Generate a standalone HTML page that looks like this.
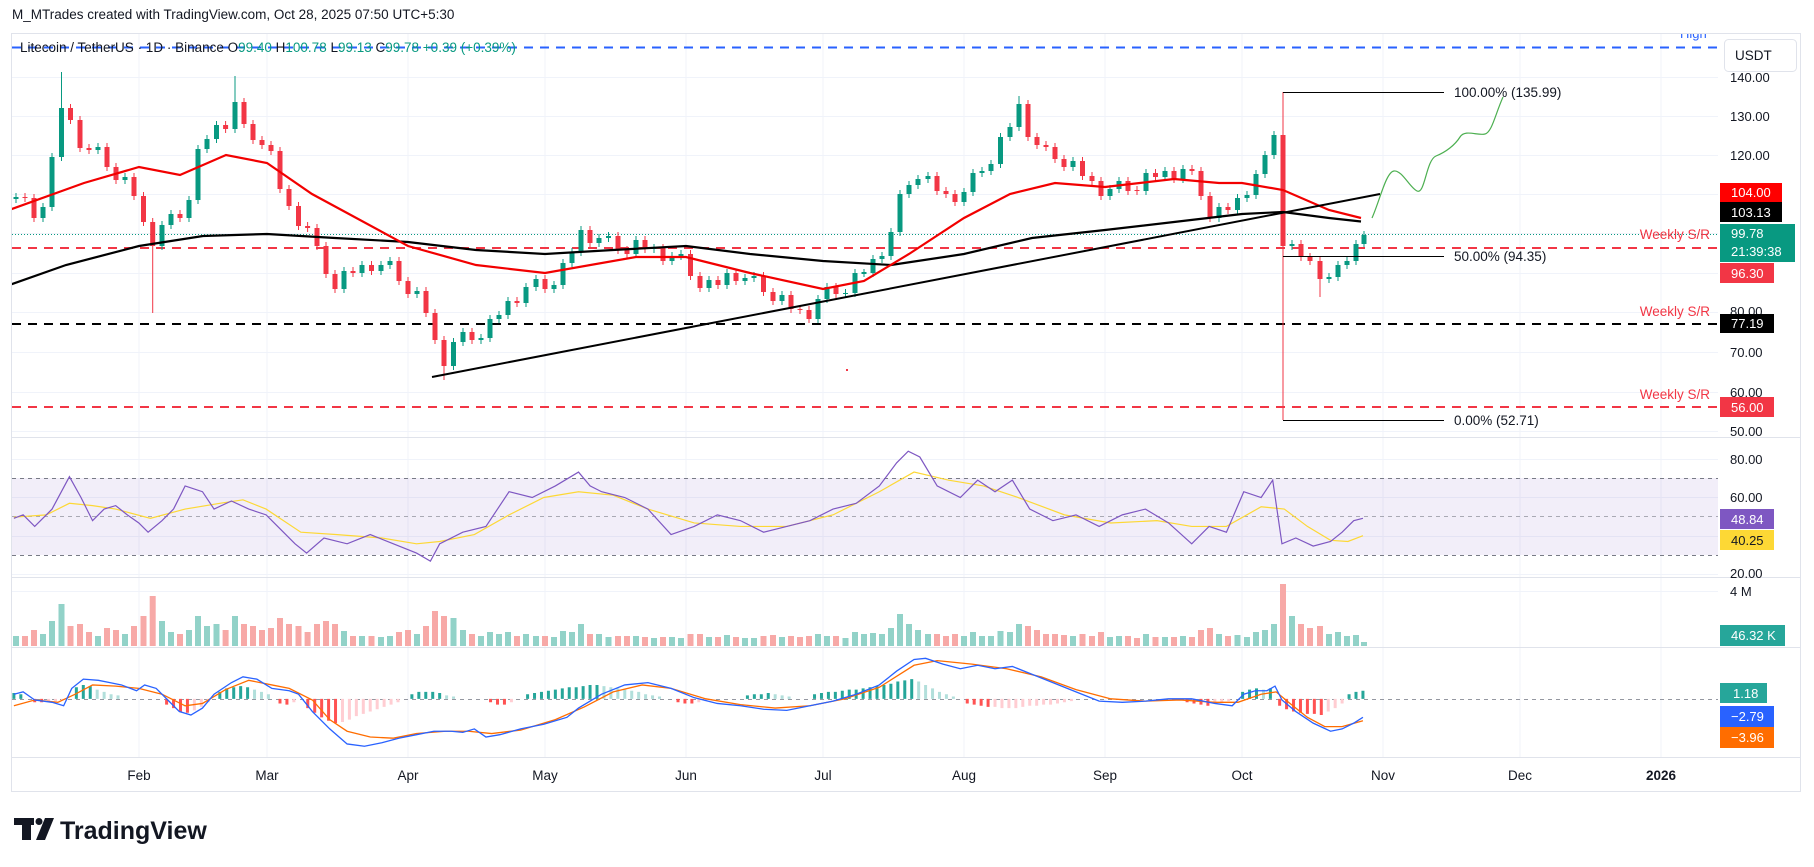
<!DOCTYPE html>
<html><head><meta charset="utf-8"><style>html,body{margin:0;padding:0;background:#fff}svg{display:block}</style></head>
<body>
<svg xmlns="http://www.w3.org/2000/svg" width="1814" height="867" font-family="Liberation Sans, sans-serif">
<rect width="1814" height="867" fill="#fff"/>
<defs><clipPath id="pc"><rect x="12" y="34" width="1706" height="723"/></clipPath>
<clipPath id="mc"><rect x="12" y="34" width="1706" height="403"/></clipPath></defs>
<text x="12" y="19" font-size="13.5" fill="#131722">M_MTrades created with TradingView.com, Oct 28, 2025 07:50 UTC+5:30</text>
<rect x="11.5" y="33.5" width="1789" height="758" fill="none" stroke="#e0e3eb"/>
<g stroke="#f0f3fa" stroke-width="1">
<path d="M139,34V757M267,34V757M408,34V757M545,34V757M686,34V757M823,34V757M964,34V757M1105,34V757M1242,34V757M1383,34V757M1520,34V757M1661,34V757"/>
<path d="M12,77.5H1718M12,116.5H1718M12,155.5H1718M12,194.5H1718M12,233.5H1718M12,273.5H1718M12,312.5H1718M12,352.5H1718M12,392.5H1718M12,431.5H1718M12,459.5H1718M12,497.5H1718M12,536.5H1718M12,574.5H1718M12,591.5H1718"/>
</g>
<g stroke="#e0e3eb"><line x1="12" y1="437.5" x2="1800" y2="437.5"/><line x1="12" y1="577.5" x2="1800" y2="577.5"/><line x1="12" y1="647.5" x2="1800" y2="647.5"/><line x1="12" y1="757.5" x2="1800" y2="757.5"/></g>
<rect x="12" y="478" width="1706" height="77" fill="#7e57c2" fill-opacity="0.1"/>
<g stroke="#787b86" stroke-dasharray="4,4" stroke-width="1"><line x1="12" y1="478.5" x2="1718" y2="478.5"/><line x1="12" y1="516.5" x2="1718" y2="516.5" stroke-opacity="0.6"/><line x1="12" y1="555.5" x2="1718" y2="555.5"/></g>
<line x1="12" y1="699.5" x2="1718" y2="699.5" stroke="#9598a1" stroke-dasharray="4,4"/>
<g clip-path="url(#mc)">
<line x1="12" y1="47.5" x2="1718" y2="47.5" stroke="#2962ff" stroke-width="2" stroke-dasharray="9,7"/>
<text x="1680" y="38" font-size="13" fill="#2962ff">High</text>
<line x1="12" y1="234.5" x2="1718" y2="234.5" stroke="#089981" stroke-dasharray="1,2"/>
<line x1="12" y1="248" x2="1718" y2="248" stroke="#f23645" stroke-width="2" stroke-dasharray="9,7"/>
<line x1="12" y1="324" x2="1718" y2="324" stroke="#000" stroke-width="2" stroke-dasharray="9,7"/>
<line x1="12" y1="407" x2="1718" y2="407" stroke="#f23645" stroke-width="2" stroke-dasharray="9,7"/>
<!-- green candles -->
<g stroke="#089981" fill="none">
<path stroke-width="1" d="M16,193V203M43,203V222M52,153V211M61.5,72V161M98,143V154M125,173V184M162,221V250M171,210V229M189,196V222M198,145V204M207,135V153M216.5,121V143M235,76V133M344,267V293M362,261V277M381,261V275M390,257V269M417,287V298M453.5,338V370M463,328V346M481,334V344M490,315V342M499,311V323M508,297V319M526,283V307M536,275V291M554,281V293M563,259V289M572,248V267M581,226V256M599,234V247M608.5,232V242M636,236V258M654,244V253M672,252V265M681,250V260M709,276V292M727,269V289M745,274V285M754,272V282M782,291V305M818,295V323M827,283V303M845.5,289V298M855,269V297M864,269V277M873,255V277M882,252V263M891,228V260M900,190V236M909,181V198M918,175V189M928,172V183M964,188V206M973,169V196M982,167V177M991,160V175M1000.5,133V168M1010,123V141M1019,96V131M1073,157V171M1110,185V200M1119,177V193M1146,169V195M1165,167V181M1183,165V183M1219,203V222M1237.5,194V214M1247,191V202M1256,170V199M1265,151V178M1274,131V159M1292,240V250M1329,273V283M1338,261V281M1347,257V269M1356,240V265M1364,231V247"/>
<path stroke-width="5" d="M16,199V197M43,218V207M52,207V157M61.5,157V108M98,150V147M125,180V177M162,246V225M171,225V214M189,218V200M198,200V149M207,149V139M216.5,139V125M235,129V102M344,289V271M362,273V265M381,271V265M390,265V261M417,294V291M453.5,366V342M463,342V332M481,340V338M490,338V319M499,319V315M508,315V301M526,303V287M536,287V279M554,289V285M563,285V263M572,263V252M581,252V230M599,243V238M608.5,238V236M636,254V240M654,249V248M672,261V256M681,256V254M709,288V280M727,285V273M745,281V278M754,278V276M782,301V295M818,319V299M827,299V287M845.5,294V293M855,293V273M864,274V272M873,273V259M882,259V256M891,256V232M900,232V194M909,194V185M918,185V179M928,179V176M964,202V192M973,192V173M982,173V171M991,171V164M1000.5,164V137M1010,137V127M1019,127V104M1073,167V161M1110,196V189M1119,189V181M1146,191V173M1165,177V171M1183,179V169M1219,218V207M1237.5,210V198M1247,198V195M1256,195V174M1265,174V155M1274,155V135M1292,246V244M1329,279V277M1338,277V265M1347,265V261M1356,261V244M1364,244V235"/>
</g>
<g stroke="#f23645" fill="none">
<path stroke-width="1" d="M7,179V203M25,193V202M34,194V222M70.5,104V124M80,116V152M89,144V154M107,143V171M116,163V184M134,173V200M143.5,192V226M152.7,218V313M180,210V222M225.6,121V133M244,98V128M253,120V144M262,136V149M271,141V155M280,147V193M289,185V210M298.5,202V230M307.6,222V232M317,224V250M326,242V278M335,270V293M353,267V277M371.5,261V275M399,257V285M408,277V298M426,287V317M435,309V344M444,336V380M472,328V344M517,297V307M545,275V293M590,226V247M618,232V254M627,246V258M645,236V253M663,244V265M690.5,250V280M700,272V292M718,276V289M736,269V285M763.5,272V296M773,288V305M791,291V313M800,305V314M809,306V323M836,283V298M937,172V195M946,187V198M955,190V206M1028,100V141M1037,133V149M1046,141V151M1055,143V163M1064,155V171M1082.5,157V180M1092,172V185M1101,177V200M1128,177V195M1137,186V195M1155.5,169V181M1174,167V183M1192,165V175M1201,167V200M1210,192V222M1228,203V214M1283,92V420M1301,240V261M1310,253V265M1320,257V297"/>
<path stroke-width="5" d="M7,183V199M25,197V198M34,198V218M70.5,108V120M80,120V148M89,148V150M107,147V167M116,167V180M134,177V196M143.5,196V222M152.7,222V246M180,214V218M225.6,125V129M244,102V124M253,124V140M262,140V145M271,145V151M280,151V189M289,189V206M298.5,206V226M307.6,226V228M317,228V246M326,246V274M335,274V289M353,271V273M371.5,265V271M399,261V281M408,281V294M426,291V313M435,313V340M444,340V366M472,332V340M517,301V303M545,279V289M590,230V243M618,236V250M627,250V254M645,240V249M663,248V261M690.5,254V276M700,276V288M718,280V285M736,273V281M763.5,276V292M773,292V301M791,295V309M800,309V310M809,310V319M836,287V294M937,176V191M946,191V194M955,194V202M1028,104V137M1037,137V145M1046,145V147M1055,147V159M1064,159V167M1082.5,161V176M1092,176V181M1101,181V196M1128,181V191M1137,190V191M1155.5,173V177M1174,171V179M1192,169V171M1201,171V196M1210,196V218M1228,207V210M1283,135V246M1301,244V257M1310,257V261M1320,261V279"/>
</g>
<polyline fill="none" stroke="#000" stroke-width="2.2" points="-2,289 66,265 139,246 203,236 267,234 335,238 408,242 476,250 545,254 613,250 686,246 750,254 823,261 891,265 964,254 1032,238 1105,230 1174,222 1242,214 1283,212 1329,218 1361,221.5"/>
<polyline fill="none" stroke="#f20000" stroke-width="2.2" points="-2,214 84,183 139,167 180,175 226,155 267,163 312,194 408,246 476,265 545,273 636,257 686,257 750,273 823,289 864,281 909,254 964,218 1010,194 1055,183 1105,187 1174,179 1219,183 1242,183 1283,190 1329,210 1361,218"/>
<line x1="432" y1="377" x2="1380" y2="194" stroke="#000" stroke-width="2"/>
<g stroke="#000" stroke-width="1"><line x1="1283" y1="92.5" x2="1444" y2="92.5"/><line x1="1283" y1="256.5" x2="1444" y2="256.5"/><line x1="1283" y1="420.5" x2="1444" y2="420.5"/></g>
<path d="M1372,218 C1380,200 1386,172 1394,171 S1410,188 1417,191 C1425,195 1426,160 1436,156 S1455,145 1460,137 S1478,136 1485,134 S1495,115 1503,97" fill="none" stroke="#4caf50" stroke-width="1.2"/>
<rect x="846" y="369" width="2" height="2" fill="#f23645"/>
</g>
<g font-size="13.5" fill="#131722">
<text x="1454" y="97">100.00% (135.99)</text>
<text x="1454" y="261">50.00% (94.35)</text>
<text x="1454" y="425">0.00% (52.71)</text>
</g>
<g font-size="13.5" fill="#f23645" text-anchor="end"><text x="1710" y="239">Weekly S/R</text><text x="1710" y="316">Weekly S/R</text><text x="1710" y="399">Weekly S/R</text></g>
<text x="20" y="52" font-size="13.5" fill="#131722">Litecoin / TetherUS · 1D · Binance  O<tspan fill="#089981">99.40</tspan>  H<tspan fill="#089981">100.78</tspan>  L<tspan fill="#089981">99.13</tspan>  C<tspan fill="#089981">99.78  +0.39 (+0.39%)</tspan></text>
<g clip-path="url(#pc)">
<!-- volume -->
<path stroke="#92d2c8" stroke-width="6" fill="none" d="M16,646v-10M43,646v-12M52,646v-25M61.5,646v-42M98,646v-10M125,646v-12M162,646v-25M171,646v-14M189,646v-16M198,646v-30M207,646v-20M216.5,646v-22M235,646v-30M344,646v-15M362,646v-10M381,646v-9M390,646v-10M417,646v-12M453.5,646v-28M463,646v-16M481,646v-10M490,646v-14M499,646v-12M508,646v-14M526,646v-12M536,646v-10M554,646v-9M563,646v-15M572,646v-14M581,646v-22M599,646v-12M608.5,646v-9M636,646v-10M654,646v-8M672,646v-9M681,646v-8M709,646v-9M727,646v-11M745,646v-8M754,646v-8M782,646v-9M818,646v-12M827,646v-10M845.5,646v-8M855,646v-14M864,646v-12M873,646v-13M882,646v-12M891,646v-18M900,646v-32M909,646v-22M918,646v-16M928,646v-12M964,646v-10M973,646v-14M982,646v-10M991,646v-10M1000.5,646v-15M1010,646v-14M1019,646v-22M1073,646v-10M1110,646v-9M1119,646v-10M1146,646v-12M1165,646v-9M1183,646v-10M1219,646v-12M1237.5,646v-11M1247,646v-9M1256,646v-14M1265,646v-16M1274,646v-22M1292,646v-30M1329,646v-12M1338,646v-14M1347,646v-10M1356,646v-11M1364,646v-4"/>
<path stroke="#f7a9a7" stroke-width="6" fill="none" d="M7,646v-12M25,646v-10M34,646v-16M70.5,646v-20M80,646v-22M89,646v-14M107,646v-18M116,646v-16M134,646v-20M143.5,646v-30M152.7,646v-50M180,646v-12M225.6,646v-16M244,646v-22M253,646v-20M262,646v-16M271,646v-18M280,646v-28M289,646v-22M298.5,646v-20M307.6,646v-14M317,646v-22M326,646v-25M335,646v-22M353,646v-10M371.5,646v-10M399,646v-14M408,646v-16M426,646v-20M435,646v-35M444,646v-30M472,646v-12M517,646v-10M545,646v-10M590,646v-12M618,646v-10M627,646v-10M645,646v-9M663,646v-9M690.5,646v-12M700,646v-12M718,646v-9M736,646v-9M763.5,646v-10M773,646v-11M791,646v-10M800,646v-9M809,646v-10M836,646v-10M937,646v-12M946,646v-10M955,646v-12M1028,646v-20M1037,646v-16M1046,646v-12M1055,646v-12M1064,646v-11M1082.5,646v-12M1092,646v-10M1101,646v-14M1128,646v-10M1137,646v-8M1155.5,646v-9M1174,646v-9M1192,646v-9M1201,646v-16M1210,646v-18M1228,646v-10M1283,646v-62M1301,646v-22M1310,646v-18M1320,646v-20"/>
<!-- RSI & MACD in perceived coords -->
<g transform="scale(1.157)" fill="none">
<polyline vector-effect="non-scaling-stroke" stroke="#fdd835" stroke-width="1.2" points="12,447 40,445 60,435 80,437 100,440 130,448 160,440 190,435 210,432 230,440 260,460 290,462 330,465 360,470 380,468 410,462 440,445 470,430 500,425 530,428 560,440 600,452 640,455 680,455 720,445 760,425 790,408 820,415 850,420 880,430 920,445 960,452 1000,450 1030,455 1060,455 1090,438 1110,440 1130,455 1150,467 1165,468 1178,463"/>
<polyline vector-effect="non-scaling-stroke" stroke="#7e57c2" stroke-width="1.2" points="12,448 20,445 30,455 45,440 60,412 70,430 80,450 90,440 100,437 110,445 120,452 128,460 140,450 150,440 160,420 175,425 185,440 200,433 215,440 230,445 240,455 255,470 265,478 280,465 300,470 320,462 340,470 360,478 372,485 380,470 400,460 420,455 430,440 440,425 460,430 480,420 500,408 510,420 520,425 540,430 560,440 580,462 600,455 620,445 640,450 660,460 680,455 700,450 720,440 740,435 760,420 775,400 785,390 795,395 810,420 830,430 845,415 860,425 875,415 890,440 910,450 930,445 950,455 970,445 990,440 1010,452 1030,470 1045,455 1060,460 1075,425 1090,430 1100,415 1108,470 1120,465 1135,472 1150,468 1160,460 1170,450 1178,448"/>
<path vector-effect="non-scaling-stroke" stroke="#26a69a" stroke-width="3" d="M12,604v-5M18,604v-4M66,604v-10M72,604v-12M78,604v-11M190,604v-6M196,604v-9M202,604v-10M208,604v-11M214,604v-10M356,604v-4M362,604v-6M368,604v-6M374,604v-6M380,604v-5M456,604v-4M462,604v-5M468,604v-6M474,604v-7M480,604v-8M486,604v-9M492,604v-10M498,604v-10M504,604v-11M510,604v-12M516,604v-12M646,604v-3M652,604v-4M658,604v-4M664,604v-5M704,604v-4M710,604v-5M716,604v-6M722,604v-6M728,604v-7M734,604v-8M740,604v-8M746,604v-9M752,604v-10M758,604v-11M764,604v-12M770,604v-13M776,604v-15M782,604v-16M788,604v-17M1074,604v-6M1080,604v-8M1086,604v-9M1098,604v-9M1166,604v-4M1172,604v-6M1178,604v-7"/>
<path vector-effect="non-scaling-stroke" stroke="#b2dfdb" stroke-width="3" d="M84,604v-8M90,604v-6M96,604v-4M102,604v-3M220,604v-8M226,604v-6M232,604v-4M386,604v-3M392,604v-2M522,604v-11M528,604v-10M534,604v-9M540,604v-8M546,604v-7M552,604v-6M558,604v-4M564,604v-3M570,604v-2M670,604v-4M676,604v-3M682,604v-2M794,604v-15M800,604v-12M806,604v-9M812,604v-6M818,604v-4M824,604v-2M1092,604v-8"/>
<path vector-effect="non-scaling-stroke" stroke="#ff5252" stroke-width="3" d="M30,604v3M36,604v3M144,604v5M150,604v8M156,604v11M162,604v12M242,604v4M248,604v5M266,604v8M272,604v12M278,604v16M284,604v19M290,604v21M424,604v3M430,604v5M436,604v5M586,604v3M592,604v4M598,604v4M836,604v4M842,604v5M848,604v6M854,604v7M1026,604v3M1032,604v4M1038,604v5M1044,604v6M1106,604v6M1112,604v9M1118,604v11M1124,604v12M1130,604v13M1136,604v13M1142,604v14"/>
<path vector-effect="non-scaling-stroke" stroke="#ffcdd2" stroke-width="3" d="M42,604v2M48,604v2M54,604v1M168,604v10M174,604v7M180,604v3M254,604v3M296,604v20M302,604v18M308,604v15M314,604v13M320,604v11M326,604v9M332,604v7M338,604v5M344,604v3M442,604v3M604,604v3M610,604v2M860,604v7M866,604v8M872,604v8M878,604v8M884,604v7M890,604v6M896,604v6M902,604v5M908,604v5M914,604v4M920,604v3M926,604v2M1050,604v4M1056,604v3M1062,604v2M1148,604v11M1154,604v8M1160,604v4"/>
<polyline vector-effect="non-scaling-stroke" stroke="#ff6d00" stroke-width="1.3" points="12,610 30,605 50,607 65,600 80,592 100,593 120,595 140,600 160,610 175,608 195,596 215,588 235,592 250,595 270,605 285,622 300,632 320,637 340,638 360,634 385,632 405,632 425,634 450,631 480,622 505,611 530,598 555,592 580,595 610,604 640,609 670,612 700,610 730,604 760,594 790,575 810,571 840,574 870,578 900,585 930,596 960,604 990,606 1020,605 1050,607 1070,607 1090,600 1103,598 1115,608 1130,620 1145,628 1160,628 1178,623"/>
<polyline vector-effect="non-scaling-stroke" stroke="#2962ff" stroke-width="1.3" points="12,600 20,598 30,605 45,607 55,610 62,595 72,587 85,588 95,590 105,592 118,597 125,592 135,595 145,605 155,615 165,618 175,612 185,600 200,590 210,585 222,587 235,595 250,597 258,600 270,615 285,630 300,643 315,645 330,642 345,638 360,635 375,632 390,632 400,633 410,630 420,637 432,635 450,630 470,626 490,620 500,612 520,600 540,592 560,590 580,595 600,603 620,608 640,610 660,613 680,614 700,610 720,606 740,600 760,592 775,580 790,570 800,569 815,574 830,578 845,575 860,578 875,576 890,582 910,590 930,598 950,606 970,607 990,606 1010,604 1030,604 1050,608 1065,610 1075,600 1085,597 1095,597 1102,593 1108,605 1120,615 1135,625 1150,632 1160,630 1170,625 1178,620"/>
</g>
</g>
<g font-size="13" fill="#131722">
<text x="1730" y="82">140.00</text><text x="1730" y="121">130.00</text><text x="1730" y="160">120.00</text>
<text x="1730" y="316">80.00</text><text x="1730" y="357">70.00</text><text x="1730" y="397">60.00</text><text x="1730" y="436">50.00</text>
<text x="1730" y="464">80.00</text><text x="1730" y="502">60.00</text><text x="1730" y="578">20.00</text>
<text x="1730" y="596">4 M</text>
</g>
<rect x="1724.5" y="39.5" width="72" height="32" rx="4" fill="#fff" stroke="#e0e3eb"/>
<text x="1735" y="60" font-size="13.5" fill="#131722">USDT</text>
<g font-size="13" fill="#fff">
<rect x="1720" y="183" width="62" height="19" fill="#ff0000"/><text x="1731" y="197">104.00</text>
<rect x="1720" y="202" width="62" height="20" fill="#000"/><text x="1731" y="217">103.13</text>
<rect x="1720" y="224" width="75" height="38" fill="#089981"/><text x="1731" y="238">99.78</text><text x="1731" y="256">21:39:38</text>
<rect x="1720" y="263" width="54" height="20" fill="#f23645"/><text x="1731" y="278">96.30</text>
<rect x="1720" y="314" width="54" height="19" fill="#000"/><text x="1731" y="328">77.19</text>
<rect x="1720" y="397" width="54" height="20" fill="#f23645"/><text x="1731" y="412">56.00</text>
<rect x="1720" y="509" width="54" height="20" fill="#7e57c2"/><text x="1731" y="524">48.84</text>
<rect x="1720" y="530" width="54" height="20" fill="#fdd835"/><text x="1731" y="545" fill="#131722">40.25</text>
<rect x="1720" y="625" width="65" height="21" fill="#26a69a"/><text x="1731" y="640">46.32 K</text>
<rect x="1720" y="683" width="47" height="20" fill="#26a69a"/><text x="1733" y="698">1.18</text>
<rect x="1720" y="706" width="54" height="21" fill="#2962ff"/><text x="1731" y="721">−2.79</text>
<rect x="1720" y="727" width="54" height="21" fill="#ff6d00"/><text x="1731" y="742">−3.96</text>
</g>
<g font-size="13.5" fill="#131722" text-anchor="middle">
<text x="139" y="780">Feb</text><text x="267" y="780">Mar</text><text x="408" y="780">Apr</text><text x="545" y="780">May</text><text x="686" y="780">Jun</text><text x="823" y="780">Jul</text><text x="964" y="780">Aug</text><text x="1105" y="780">Sep</text><text x="1242" y="780">Oct</text><text x="1383" y="780">Nov</text><text x="1520" y="780">Dec</text><text x="1661" y="780" font-weight="bold">2026</text>
</g>
<g fill="#131722"><rect x="14" y="818" width="20" height="7"/><rect x="22" y="818" width="9" height="22"/><circle cx="39" cy="821.5" r="3.5"/><polygon points="45,818 54,818 45,840 36,840"/></g>
<text x="60" y="839" font-size="25" font-weight="bold" fill="#131722">TradingView</text>
</svg>
</body></html>
